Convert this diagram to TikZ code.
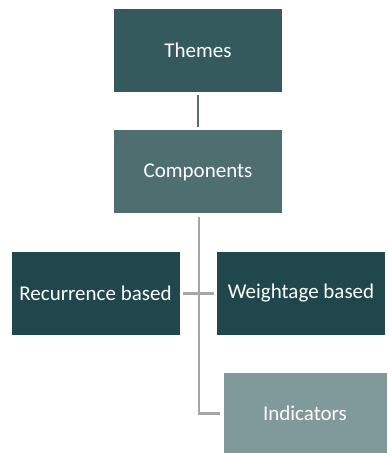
\documentclass[tikz,border=0pt]{standalone}
\usepackage{fontspec}
\setmainfont{Carlito}
\usetikzlibrary{positioning}
\definecolor{themecol}{HTML}{345A5E}
\definecolor{compcol}{HTML}{4F6E70}
\definecolor{basecol}{HTML}{1F474C}
\definecolor{indcol}{HTML}{80999A}
\definecolor{topline}{HTML}{5F6B6B}
\definecolor{lowline}{HTML}{A6A6A6}
\newcommand\bw{168pt}
\newcommand\bh{83pt}
\newcommand\gap{38pt}

\begin{document}
\begin{tikzpicture}[
    box/.style={rectangle, minimum width=\bw, minimum height=\bh, inner sep=0pt,
      text=white, font=\fontsize{21}{25}\selectfont},
    link/.style={line width=2.5pt, lowline},
  ]
  \useasboundingbox (0,0) rectangle (388pt,-453pt);
  \node [box, fill=themecol] (themes) at (198pt,-50.5pt) {Themes};
  \node [box, fill=compcol, below=\gap of themes] (comp) {Components};
  % the two bases
  \node [box, fill=basecol, below=\gap of comp, xshift=-102.5pt] (rec) {Recurrence based};
  \node [box, fill=basecol, below=\gap of comp, xshift=103pt] (wei) {Weightage based};
  \node [box, fill=indcol, minimum width=163pt, minimum height=81pt,
    below=\gap of wei, xshift=4pt] (ind) {Indicators};

  \draw [line width=2pt, topline, shorten <=3pt, shorten >=3pt] (themes) -- (comp);
  \draw [link, shorten <=3pt, shorten >=3pt] (rec) -- (wei);
  \draw [link, shorten <=3pt, shorten >=3pt] ([xshift=1pt]comp.south) |- (ind.west);
\end{tikzpicture}
\end{document}
